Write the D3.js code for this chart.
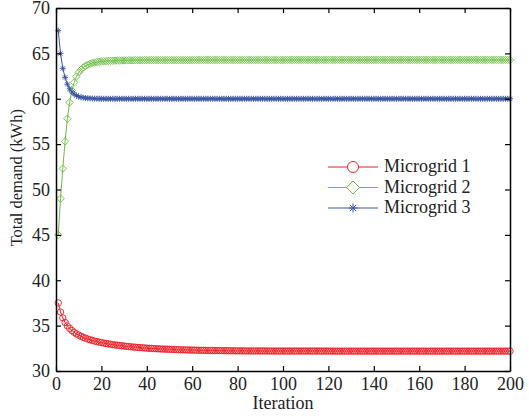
<!DOCTYPE html>
<html>
<head>
<meta charset="utf-8">
<script src="https://cdn.jsdelivr.net/npm/d3@7"></script>
<style>
  html, body { margin: 0; padding: 0; background: #fff; }
  svg { display: block; font-family: "Liberation Serif", "Times New Roman", serif; }
</style>
</head>
<body>
<svg id="chart" width="529" height="418"></svg>
<script>
// ---- Data ----
const seriesNames = ["Microgrid 1", "Microgrid 2", "Microgrid 3"];
const xTicks = [0, 20, 40, 60, 80, 100, 120, 140, 160, 180, 200];
const yTicks = [30, 35, 40, 45, 50, 55, 60, 65, 70];
const xLabel = "Iteration";
const yLabel = "Total demand (kWh)";

const microgrid1 = [
  37.5, 36.5, 35.85, 35.35, 34.98, 34.7, 34.46, 34.26, 34.09, 33.95,
  33.82, 33.71, 33.61, 33.52, 33.44, 33.37, 33.3, 33.24, 33.18, 33.13,
  33.08, 33.03, 32.99, 32.95, 32.91, 32.87, 32.84, 32.81, 32.78, 32.75,
  32.72, 32.69, 32.67, 32.64, 32.62, 32.6, 32.58, 32.56, 32.54, 32.52,
  32.5, 32.49, 32.47, 32.46, 32.44, 32.43, 32.42, 32.41, 32.4, 32.39,
  32.38, 32.37, 32.36, 32.35, 32.34, 32.33, 32.33, 32.32, 32.31, 32.31,
  32.3, 32.29, 32.29, 32.28, 32.28, 32.27, 32.27, 32.26, 32.26, 32.25,
  32.25, 32.25, 32.24, 32.24, 32.24, 32.23, 32.23, 32.23, 32.22, 32.22,
  32.22, 32.22, 32.21, 32.21, 32.21, 32.21, 32.21, 32.21, 32.21, 32.21,
  32.21, 32.21, 32.2, 32.2, 32.2, 32.2, 32.2, 32.2, 32.2, 32.2,
  32.2, 32.2, 32.2, 32.2, 32.2, 32.2, 32.2, 32.2, 32.2, 32.2,
  32.2, 32.2, 32.2, 32.2, 32.2, 32.2, 32.2, 32.2, 32.2, 32.2,
  32.19, 32.19, 32.19, 32.19, 32.19, 32.19, 32.19, 32.19, 32.19, 32.19,
  32.19, 32.19, 32.19, 32.19, 32.19, 32.19, 32.19, 32.19, 32.19, 32.19,
  32.19, 32.19, 32.19, 32.19, 32.19, 32.19, 32.19, 32.19, 32.19, 32.19,
  32.19, 32.19, 32.19, 32.19, 32.19, 32.19, 32.19, 32.19, 32.19, 32.19,
  32.19, 32.19, 32.19, 32.19, 32.19, 32.19, 32.19, 32.19, 32.19, 32.19,
  32.19, 32.19, 32.19, 32.19, 32.19, 32.19, 32.19, 32.19, 32.19, 32.19,
  32.19, 32.19, 32.19, 32.19, 32.19, 32.19, 32.19, 32.19, 32.19, 32.19,
  32.19, 32.19, 32.19, 32.19, 32.19, 32.19, 32.19, 32.19, 32.19, 32.19
];

const microgrid2 = [
  45.0, 49.0, 52.3, 55.3, 57.8, 59.6, 60.9, 61.8, 62.45, 62.9,
  63.2, 63.45, 63.62, 63.75, 63.85, 63.93, 63.99, 64.04, 64.08, 64.11,
  64.13, 64.15, 64.17, 64.18, 64.19, 64.2, 64.21, 64.22, 64.22, 64.23,
  64.23, 64.24, 64.24, 64.24, 64.25, 64.25, 64.25, 64.25, 64.26, 64.26,
  64.26, 64.26, 64.26, 64.26, 64.26, 64.26, 64.26, 64.26, 64.26, 64.26,
  64.26, 64.26, 64.26, 64.26, 64.26, 64.26, 64.26, 64.26, 64.26, 64.26,
  64.27, 64.27, 64.27, 64.27, 64.27, 64.27, 64.27, 64.27, 64.27, 64.27,
  64.27, 64.27, 64.27, 64.27, 64.27, 64.27, 64.27, 64.27, 64.27, 64.27,
  64.27, 64.27, 64.27, 64.27, 64.27, 64.27, 64.27, 64.27, 64.27, 64.27,
  64.27, 64.27, 64.27, 64.27, 64.27, 64.27, 64.27, 64.27, 64.27, 64.27,
  64.28, 64.28, 64.28, 64.28, 64.28, 64.28, 64.28, 64.28, 64.28, 64.28,
  64.28, 64.28, 64.28, 64.28, 64.28, 64.28, 64.28, 64.28, 64.28, 64.28,
  64.28, 64.28, 64.28, 64.28, 64.28, 64.28, 64.28, 64.28, 64.28, 64.28,
  64.28, 64.28, 64.28, 64.28, 64.28, 64.28, 64.28, 64.28, 64.28, 64.28,
  64.28, 64.28, 64.28, 64.28, 64.28, 64.28, 64.28, 64.28, 64.28, 64.28,
  64.28, 64.28, 64.28, 64.28, 64.28, 64.28, 64.28, 64.28, 64.28, 64.28,
  64.28, 64.28, 64.28, 64.28, 64.28, 64.28, 64.28, 64.28, 64.28, 64.28,
  64.28, 64.28, 64.28, 64.28, 64.28, 64.28, 64.28, 64.28, 64.28, 64.28,
  64.28, 64.28, 64.28, 64.28, 64.28, 64.28, 64.28, 64.28, 64.28, 64.28,
  64.28, 64.28, 64.28, 64.28, 64.28, 64.28, 64.28, 64.28, 64.28, 64.28
];

const microgrid3 = [
  67.5, 65.0, 63.35, 62.35, 61.6, 61.1, 60.75, 60.5, 60.35, 60.24,
  60.17, 60.12, 60.08, 60.06, 60.04, 60.03, 60.02, 60.01, 60.01, 60.0,
  60.0, 60.0, 60.0, 60.0, 60.0, 60.0, 60.0, 60.0, 60.0, 60.0,
  60.0, 60.0, 60.0, 60.0, 60.0, 60.0, 60.0, 60.0, 60.0, 60.0,
  60.0, 60.0, 60.0, 60.0, 60.0, 60.0, 60.0, 60.0, 60.0, 60.0,
  60.0, 60.0, 60.0, 60.0, 60.0, 60.0, 60.0, 60.0, 60.0, 60.0,
  60.0, 60.0, 60.0, 60.0, 60.0, 60.0, 60.0, 60.0, 60.0, 60.0,
  60.0, 60.0, 60.0, 60.0, 60.0, 60.0, 60.0, 60.0, 60.0, 60.0,
  60.0, 60.0, 60.0, 60.0, 60.0, 60.0, 60.0, 60.0, 60.0, 60.0,
  60.0, 60.0, 60.0, 60.0, 60.0, 60.0, 60.0, 60.0, 60.0, 60.0,
  60.0, 60.0, 60.0, 60.0, 60.0, 60.0, 60.0, 60.0, 60.0, 60.0,
  60.0, 60.0, 60.0, 60.0, 60.0, 60.0, 60.0, 60.0, 60.0, 60.0,
  60.0, 60.0, 60.0, 60.0, 60.0, 60.0, 60.0, 60.0, 60.0, 60.0,
  60.0, 60.0, 60.0, 60.0, 60.0, 60.0, 60.0, 60.0, 60.0, 60.0,
  60.0, 60.0, 60.0, 60.0, 60.0, 60.0, 60.0, 60.0, 60.0, 60.0,
  60.0, 60.0, 60.0, 60.0, 60.0, 60.0, 60.0, 60.0, 60.0, 60.0,
  60.0, 60.0, 60.0, 60.0, 60.0, 60.0, 60.0, 60.0, 60.0, 60.0,
  60.0, 60.0, 60.0, 60.0, 60.0, 60.0, 60.0, 60.0, 60.0, 60.0,
  60.0, 60.0, 60.0, 60.0, 60.0, 60.0, 60.0, 60.0, 60.0, 60.0,
  60.0, 60.0, 60.0, 60.0, 60.0, 60.0, 60.0, 60.0, 60.0, 60.0
];

// ---- Styles ----
const colors = ["#ee1d24", "#6cbd45", "#3a55a4"];

// Custom asterisk symbol (MATLAB '*': plus + cross)
const asterisk = {
  draw(ctx, size) {
    const r = Math.sqrt(size) / 2;
    const d = r * 0.7071;
    ctx.moveTo(0, -r); ctx.lineTo(0, r);
    ctx.moveTo(-r, 0); ctx.lineTo(r, 0);
    ctx.moveTo(-d, -d); ctx.lineTo(d, d);
    ctx.moveTo(-d, d); ctx.lineTo(d, -d);
  }
};
const diamondSym = {
  draw(ctx, size) {
    const r = Math.sqrt(size) / 2;
    ctx.moveTo(0, -r); ctx.lineTo(r, 0); ctx.lineTo(0, r); ctx.lineTo(-r, 0); ctx.closePath();
  }
};
const circleSym = {
  draw(ctx, size) {
    const r = Math.sqrt(size) / 2;
    ctx.moveTo(r, 0); ctx.arc(0, 0, r, 0, 2 * Math.PI);
  }
};
const symbolTypes = [circleSym, diamondSym, asterisk];
const plotSizes = [6.4 * 6.4, 7.4 * 7.4, 6 * 6];
const legendSizes = [11 * 11, 13 * 13, 9 * 9];

// ---- Layout ----
const svg = d3.select("#chart");
const plotLeft = 56, plotRight = 510, plotTop = 8, plotBottom = 371;

const x = d3.scaleLinear().domain([0, 200]).range([plotLeft, plotRight]);
const y = d3.scaleLinear().domain([30, 70]).range([plotBottom, plotTop]);

const seriesData = [microgrid1, microgrid2, microgrid3].map(arr => arr.map((v, i) => ({ it: i + 1, v })));

// ---- Series ----
const line = d3.line().x(d => x(d.it)).y(d => y(d.v));
seriesData.forEach((data, k) => {
  const g = svg.append("g");
  g.append("path")
    .datum(data)
    .attr("fill", "none")
    .attr("stroke", colors[k])
    .attr("stroke-width", 1)
    .attr("d", line);
  g.selectAll("path.m")
    .data(data)
    .join("path")
    .attr("class", "m")
    .attr("transform", d => `translate(${x(d.it)},${y(d.v)})`)
    .attr("d", d3.symbol().type(symbolTypes[k]).size(plotSizes[k]))
    .attr("fill", "none")
    .attr("stroke", colors[k])
    .attr("stroke-width", 0.9);
});

// ---- Axes ----
const fontSize = 18;
const axB = svg.append("g").attr("transform", `translate(0,${plotBottom})`)
  .call(d3.axisBottom(x).tickValues(xTicks).tickSize(-5).tickSizeOuter(0).tickPadding(6));
const axL = svg.append("g").attr("transform", `translate(${plotLeft},0)`)
  .call(d3.axisLeft(y).tickValues(yTicks).tickSize(-5).tickSizeOuter(0).tickPadding(6));
const axT = svg.append("g").attr("transform", `translate(0,${plotTop})`)
  .call(d3.axisTop(x).tickValues(xTicks).tickSize(-5).tickSizeOuter(0).tickFormat(""));
const axR = svg.append("g").attr("transform", `translate(${plotRight},0)`)
  .call(d3.axisRight(y).tickValues(yTicks).tickSize(-5).tickSizeOuter(0).tickFormat(""));

[axB, axL, axT, axR].forEach(a => {
  a.selectAll("path.domain").attr("stroke", "#000").attr("stroke-width", 1.5);
  a.selectAll(".tick line").attr("stroke", "#000").attr("stroke-width", 1.2);
  a.selectAll(".tick text")
    .attr("fill", "#222")
    .style("font-family", "'Liberation Serif', 'Times New Roman', serif")
    .style("font-size", fontSize + "px");
});

// ---- Axis labels ----
svg.append("text")
  .attr("x", (plotLeft + plotRight) / 2)
  .attr("y", 409)
  .attr("text-anchor", "middle")
  .attr("fill", "#222")
  .style("font-size", "18px")
  .text(xLabel);

svg.append("text")
  .attr("transform", `translate(22,${y(51.3)}) rotate(-90)`)
  .attr("text-anchor", "middle")
  .attr("fill", "#222")
  .style("font-size", "16.5px")
  .text(yLabel);

// ---- Legend ----
const legend = svg.append("g");
const legRows = [167, 187.5, 208];
seriesNames.forEach((name, k) => {
  const ly = legRows[k];
  legend.append("line")
    .attr("x1", 328).attr("x2", 378).attr("y1", ly).attr("y2", ly)
    .attr("stroke", colors[k]).attr("stroke-width", 1);
  legend.append("path")
    .attr("transform", `translate(353,${ly})`)
    .attr("d", d3.symbol().type(symbolTypes[k]).size(legendSizes[k]))
    .attr("fill", k === 0 || k === 1 ? "#fff" : "none")
    .attr("stroke", colors[k]).attr("stroke-width", 1);
  legend.append("text")
    .attr("x", 384).attr("y", ly).attr("dy", "0.3em")
    .attr("fill", "#222")
    .style("font-size", "18px")
    .text(name);
});
</script>
</body>
</html>
